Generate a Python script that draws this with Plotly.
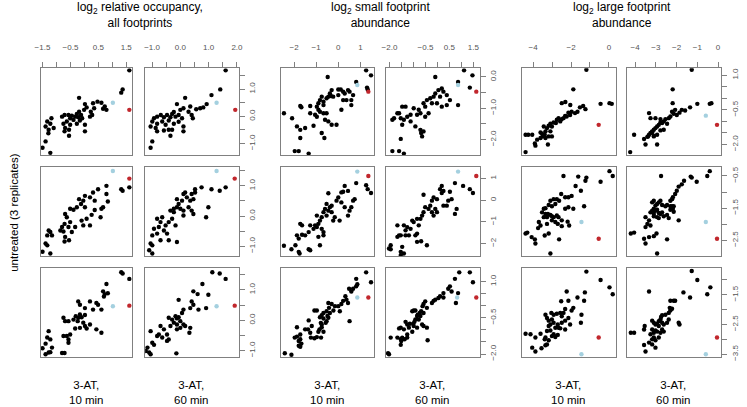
import plotly.graph_objects as go

# ---- x axes (3-AT 10 min / 60 min) for each measure ----
occ_10_range = [-1.571, 1.716]
occ_10_ticks = [-1.5, -1.0, -0.5, 0.0, 0.5, 1.0, 1.5]
occ_10_labels = {-1.5: "−1.5", -0.5: "−0.5", 0.5: "0.5", 1.5: "1.5"}
occ_60_range = [-1.244, 2.066]
occ_60_ticks = [-1.0, -0.5, 0.0, 0.5, 1.0, 1.5, 2.0]
occ_60_labels = {-1.0: "−1.0", 0.0: "0.0", 1.0: "1.0", 2.0: "2.0"}
small_10_range = [-2.58, 1.616]
small_10_ticks = [-2, -1, 0, 1]
small_10_labels = {-2: "−2", -1: "−1", 0: "0", 1: "1"}
small_60_range = [-2.152, 1.757]
small_60_ticks = [-2.0, -1.5, -1.0, -0.5, 0.0, 0.5, 1.0, 1.5]
small_60_labels = {-2.0: "−2.0", -0.5: "−0.5", 0.5: "0.5", 1.5: "1.5"}
large_10_range = [-4.589, 0.359]
large_10_ticks = [-4, -3, -2, -1, 0]
large_10_labels = {-4: "−4", -2: "−2", 0: "0"}
large_60_range = [-4.414, 0.157]
large_60_ticks = [-4, -3, -2, -1, 0]
large_60_labels = {-4: "−4", -3: "−3", -2: "−2", -1: "−1", 0: "0"}

# ---- y axes (untreated replicates) for each measure ----
occ_rep1_range = [-1.436, 1.764]
occ_rep2_range = [-1.338, 1.613]
occ_rep3_range = [-1.225, 1.707]
occ_yticks = [-1.0, -0.5, 0.0, 0.5, 1.0, 1.5]
occ_ylabels = {-1.0: "−1.0", 0.0: "0.0", 1.0: "1.0"}
small_rep1_range = [-2.509, 0.275]
small_rep1_ticks = [-2.0, -1.5, -1.0, -0.5, 0.0]
small_rep1_labels = {-2.0: "−2.0", -1.0: "−1.0", 0.0: "0.0"}
small_rep2_range = [-2.594, 1.516]
small_rep2_ticks = [-2, -1, 0, 1]
small_rep2_labels = {-2: "−2", -1: "−1", 0: "0", 1: "1"}
small_rep3_range = [-2.143, 1.545]
small_rep3_ticks = [-2.0, -1.5, -1.0, -0.5, 0.0, 0.5, 1.0]
small_rep3_labels = {-2.0: "−2.0", -0.5: "−0.5", 1.0: "1.0"}
large_rep1_range = [-2.476, 1.30]
large_rep1_ticks = [-2.0, -1.5, -1.0, -0.5, 0.0, 0.5, 1.0]
large_rep1_labels = {-2.0: "−2.0", -0.5: "−0.5", 1.0: "1.0"}
large_rep2_range = [-3.002, -0.232]
large_rep2_ticks = [-2.5, -2.0, -1.5, -1.0, -0.5]
large_rep2_labels = {-2.5: "−2.5", -1.5: "−1.5", -0.5: "−0.5"}
large_rep3_range = [-3.61, -0.61]
large_rep3_ticks = [-3.5, -3.0, -2.5, -2.0, -1.5, -1.0]
large_rep3_labels = {-3.5: "−3.5", -2.5: "−2.5", -1.5: "−1.5"}

# ---- points (x = 3-AT, y = untreated) ----
occ_10_rep1 = [(1.61, 1.69), (1.37, 0.99), (1.32, 0.87), (-0.19, 0.68), (0.02, 0.45), (0.08, 0.33), (-0.01, 0.24),
               (0.31, 0.48), (0.47, 0.54), (0.61, 0.50), (0.73, 0.36), (0.67, 0.28), (0.79, 0.24), (0.35, 0.30),
               (0.23, 0.17), (0.20, -0.01), (0.28, 0.05), (-0.19, 0.17), (-0.80, -0.01), (-0.71, 0.05), (-0.57, 0.05),
               (-0.51, -0.07), (-0.45, 0.02), (-0.33, -0.01), (-0.27, 0.09), (-0.22, -0.03), (-0.12, 0.05), (-0.08, -0.07),
               (-0.39, -0.13), (-0.63, -0.19), (-0.75, -0.27), (-0.51, -0.31), (-0.27, -0.27), (-0.16, -0.15), (0.02, -0.31),
               (-0.55, -0.49), (-0.69, -0.43), (-1.18, -0.07), (-1.33, -0.19), (-1.39, -0.37), (-1.22, -0.27), (-1.28, -0.49),
               (-1.10, -0.43), (-1.50, -1.15), (-1.39, -0.92), (-1.22, -1.34), (-0.55, -0.71), (-1.29, -0.62), (-0.71, -0.55),
               (0.02, -0.55)]
occ_10_rep1_hl = {"blue": (1.02, 0.50), "red": (1.61, 0.24)}
occ_60_rep1 = [(1.60, 1.69), (1.41, 0.99), (1.10, 0.78), (0.17, 0.68), (-0.12, 0.45), (0.93, 0.45), (0.81, 0.33),
               (0.70, 0.30), (0.56, 0.26), (0.35, 0.36), (0.11, 0.30), (0.29, 0.17), (0.40, 0.05), (0.44, -0.07),
               (0.00, 0.24), (-0.23, 0.16), (-0.93, -0.07), (-0.82, -0.01), (-0.69, 0.05), (-0.58, -0.03), (-0.47, 0.05),
               (-0.35, -0.03), (-0.29, 0.09), (-0.17, -0.01), (-0.06, 0.05), (0.06, -0.07), (-0.41, -0.15), (-0.64, -0.19),
               (-0.82, -0.27), (-0.52, -0.31), (-0.23, -0.27), (-0.06, -0.20), (0.11, -0.37), (-0.41, -0.49), (-0.99, -0.19),
               (-1.05, -0.37), (-0.87, -0.43), (-1.05, -1.15), (-0.99, -0.92), (-0.82, -0.55), (-0.35, -0.71), (-0.58, -0.52),
               (-0.29, -0.49), (0.11, -0.55)]
occ_60_rep1_hl = {"blue": (1.28, 0.50), "red": (1.94, 0.24)}
occ_10_rep2 = [(1.61, 0.95), (1.32, 0.89), (1.37, 0.84), (0.79, 1.00), (0.79, 0.73), (0.49, 0.89), (0.31, 0.78),
               (0.20, 0.62), (0.37, 0.51), (0.84, 0.48), (0.02, 0.67), (-0.04, 0.51), (-0.19, 0.56), (-0.12, 0.40),
               (0.02, 0.29), (-0.27, 0.29), (-0.39, 0.21), (-0.51, 0.24), (0.61, 0.24), (0.67, 0.29), (0.58, -0.04),
               (0.37, 0.20), (0.26, 0.04), (0.08, -0.09), (-0.10, -0.15), (0.20, -0.31), (-0.04, -0.31), (-0.69, 0.07),
               (-0.63, -0.04), (-0.51, -0.20), (-0.71, -0.26), (-0.80, -0.36), (-0.57, -0.36), (-0.33, -0.36), (-0.45, -0.53),
               (-0.75, -0.51), (-0.86, -0.48), (-0.69, -0.69), (-0.71, -0.84), (-0.55, -0.80), (-1.28, -0.48), (-1.22, -0.53),
               (-1.33, -0.64), (-1.16, -0.64), (-1.39, -0.91), (-1.33, -0.97), (-1.50, -1.18), (-1.22, -1.24)]
occ_10_rep2_hl = {"blue": (1.02, 1.49), "red": (1.61, 1.24)}
occ_60_rep2 = [(1.60, 0.95), (1.39, 0.84), (1.10, 0.89), (0.75, 0.95), (0.52, 0.89), (0.40, 0.73), (0.52, 0.78),
               (0.17, 0.78), (0.11, 0.73), (0.23, 0.62), (-0.12, 0.56), (0.06, 0.51), (0.35, 0.51), (0.46, 0.56),
               (0.99, 0.29), (0.91, -0.04), (-0.06, 0.40), (-0.12, 0.29), (0.00, 0.24), (-0.23, 0.24), (-0.35, 0.18),
               (0.11, 0.18), (-0.23, 0.13), (0.11, 0.02), (0.29, 0.29), (0.40, 0.18), (0.46, 0.07), (-0.64, -0.04),
               (-0.82, -0.09), (-0.70, -0.20), (-0.41, -0.20), (-0.52, -0.31), (-0.76, -0.36), (-0.93, -0.42), (-0.58, -0.48),
               (-0.82, -0.58), (-0.99, -0.64), (-0.47, -0.58), (-0.17, -0.31), (-0.12, -0.86), (-0.41, -0.80), (-0.70, -0.80),
               (-1.05, -0.91), (-0.99, -0.97), (-1.10, -1.13), (-0.99, -1.24), (-0.29, -0.09)]
occ_60_rep2_hl = {"blue": (1.28, 1.49), "red": (1.92, 1.24)}
occ_10_rep3 = [(1.32, 1.58), (1.37, 1.54), (1.61, 1.36), (0.79, 1.19), (0.67, 0.95), (0.73, 0.86), (0.84, 0.89),
               (0.70, 0.78), (0.20, 0.62), (0.43, 0.57), (0.49, 0.51), (0.02, 0.40), (0.31, 0.35), (0.61, 0.35),
               (-0.22, 0.62), (-0.16, 0.51), (-0.39, 0.02), (-0.31, 0.13), (-0.22, 0.08), (-0.16, 0.19), (-0.10, 0.10),
               (0.02, 0.17), (-0.24, -0.03), (-0.04, -0.08), (0.02, -0.19), (0.08, -0.27), (-0.33, -0.27), (-0.16, -0.25),
               (0.20, -0.14), (0.43, -0.30), (0.61, -0.41), (-0.75, 0.08), (-0.69, -0.03), (-0.57, -0.03), (-0.75, -0.52),
               (-0.63, -0.52), (-0.51, -0.47), (-0.57, -0.63), (-0.57, -0.74), (-1.28, -0.36), (-1.33, -0.57), (-1.22, -0.63),
               (-1.39, -0.77), (-1.16, -0.90), (-1.50, -0.92), (-1.39, -1.12), (-1.28, -1.06), (-1.22, -1.05), (-0.80, -1.08),
               (-0.71, -1.08)]
occ_10_rep3_hl = {"blue": (1.02, 0.46), "red": (1.61, 0.48)}
occ_60_rep3 = [(1.13, 1.58), (1.39, 1.54), (1.60, 1.36), (0.78, 1.19), (0.46, 0.95), (0.61, 0.86), (0.99, 0.84),
               (0.91, 0.40), (0.40, 0.62), (0.46, 0.51), (0.35, 0.40), (0.64, 0.35), (-0.06, 0.67), (0.11, 0.35),
               (0.06, 0.24), (-0.41, 0.08), (-0.29, 0.02), (-0.17, 0.13), (-0.12, 0.06), (-0.06, 0.10), (0.00, -0.03),
               (-0.23, -0.08), (-0.12, -0.14), (0.11, -0.14), (0.17, -0.19), (-0.35, -0.19), (0.00, -0.25), (-0.12, -0.30),
               (0.35, -0.25), (0.32, -0.41), (-0.70, -0.19), (-0.58, -0.30), (-0.76, -0.47), (-0.47, -0.47), (-0.64, -0.57),
               (-0.41, -0.63), (-0.47, -0.68), (-1.05, -0.36), (-0.82, -0.52), (-0.99, -0.74), (-0.93, -0.81), (-1.16, -0.90),
               (-1.22, -1.01), (-1.10, -1.06), (-1.05, -1.12), (-0.14, -1.09)]
occ_60_rep3_hl = {"blue": (1.28, 0.46), "red": (1.92, 0.48)}

small_10_rep1 = [(1.26, 0.21), (1.48, 0.05), (0.81, -0.16), (1.30, -0.34), (1.33, -0.40), (-0.48, 0.00), (-0.30, -0.42),
                 (-0.38, -0.53), (-0.33, -0.61), (-0.45, -0.63), (-0.53, -0.68), (-0.23, -0.63), (-0.75, -0.63), (-0.83, -0.74),
                 (-0.67, -0.79), (-0.90, -0.84), (-0.67, -0.90), (0.00, -0.40), (0.11, -0.40), (0.22, -0.47), (0.29, -0.53),
                 (0.44, -0.42), (0.51, -0.47), (0.67, -0.58), (0.59, -0.74), (0.37, -0.74), (0.22, -0.74), (0.00, -0.58),
                 (0.59, -0.90), (-1.72, -0.93), (-1.67, -0.97), (-1.27, -0.93), (-0.97, -0.95), (-0.90, -1.05), (-0.83, -1.11),
                 (-0.67, -1.16), (-0.53, -1.16), (-1.05, -1.21), (-1.27, -1.16), (-0.97, -1.27), (-0.60, -1.37), (-0.45, -1.42),
                 (-0.30, -1.53), (-0.08, -1.53), (0.14, -1.05), (-2.46, -1.16), (-2.09, -1.32), (-1.87, -1.58), (-1.72, -1.69),
                 (-1.50, -1.63), (-1.12, -1.56), (-0.75, -1.79), (-0.63, -1.95), (-1.72, -1.95), (-1.97, -2.37), (-1.79, -2.37),
                 (-1.34, -2.45)]
small_10_rep1_hl = {"blue": (0.86, -0.26), "red": (1.36, -0.47)}
small_60_rep1 = [(1.11, 0.21), (1.46, 0.05), (0.86, -0.16), (1.35, -0.34), (-0.09, 0.00), (0.18, -0.37), (0.25, -0.47),
                 (0.04, -0.42), (-0.09, -0.53), (0.39, -0.58), (0.52, -0.74), (0.11, -0.63), (-0.16, -0.63), (-0.30, -0.68),
                 (-0.44, -0.74), (-0.23, -0.84), (-0.02, -0.84), (0.18, -0.95), (0.39, -0.90), (0.86, -0.90), (-0.58, -0.84),
                 (-0.51, -0.95), (-0.78, -1.05), (-0.71, -1.16), (-0.85, -1.21), (-0.51, -1.27), (-0.37, -1.16), (-0.99, -1.00),
                 (-1.12, -1.21), (-1.26, -1.27), (-1.40, -1.37), (-1.47, -1.53), (-1.12, -1.42), (-0.92, -1.58), (-0.71, -1.69),
                 (-0.58, -1.74), (-0.64, -1.90), (-1.88, -1.37), (-1.81, -1.32), (-1.67, -1.16), (-1.60, -1.16), (-1.47, -0.95),
                 (-1.33, -0.95), (-1.53, -1.32), (-1.88, -2.37), (-1.60, -2.37), (-1.40, -2.45), (-1.53, -1.98), (-0.68, -1.79)]
small_60_rep1_hl = {"blue": (0.86, -0.26), "red": (1.62, -0.47)}
small_10_rep2 = [(0.81, 0.79), (1.26, 0.69), (1.33, 0.51), (1.48, 0.33), (0.29, 0.66), (0.44, 0.43), (0.22, 0.39),
                 (0.14, 0.36), (0.00, 0.13), (-0.08, -0.02), (0.67, -0.02), (0.74, 0.05), (0.59, -0.32), (0.44, -0.71),
                 (0.51, -0.48), (0.29, -0.32), (0.14, -0.10), (-0.45, 0.32), (-0.53, -0.17), (-0.38, -0.32), (-0.30, -0.25),
                 (-0.45, -0.48), (-0.60, -0.40), (-0.67, -0.55), (-0.53, -0.71), (-0.30, -0.55), (-0.23, -0.94), (0.06, -0.94),
                 (-0.16, -0.78), (-0.75, -0.78), (-0.83, -0.94), (-0.97, -0.71), (-0.90, -1.09), (-1.05, -1.16), (-0.75, -1.32),
                 (-0.67, -1.47), (-1.12, -1.32), (-0.97, -1.24), (-1.72, -1.09), (-1.64, -1.16), (-1.87, -1.62), (-1.79, -1.77),
                 (-1.64, -1.59), (-1.50, -1.62), (-1.34, -1.47), (-1.27, -1.16), (-0.83, -2.08), (-0.90, -1.69), (-0.67, -1.62),
                 (-1.27, -2.31), (-2.46, -2.10), (-2.12, -2.26), (-1.94, -2.08), (-1.75, -2.46), (-1.79, -2.38), (-1.34, -2.26)]
small_10_rep2_hl = {"blue": (0.86, 1.32), "red": (1.36, 1.12)}
small_60_rep2 = [(0.73, 0.79), (1.07, 0.66), (1.35, 0.51), (1.48, 0.33), (0.18, 0.66), (0.25, 0.43), (0.11, 0.51),
                 (0.18, 0.33), (0.52, 0.39), (0.59, 0.05), (0.45, -0.02), (0.39, -0.25), (0.25, -0.25), (-0.16, 0.13),
                 (-0.02, 0.05), (-0.23, -0.02), (-0.30, -0.25), (-0.37, -0.40), (-0.09, -0.40), (-0.23, -0.55), (-0.16, -0.71),
                 (-0.02, -0.55), (-0.58, 0.25), (-0.51, -0.32), (-0.58, -0.55), (-0.64, -0.71), (-0.71, -0.86), (-0.85, -0.86),
                 (-0.99, -1.01), (-1.05, -0.94), (-0.78, -1.16), (-1.12, -1.32), (-1.26, -1.24), (-1.40, -1.16), (-1.33, -1.39),
                 (-1.53, -1.62), (-1.60, -1.62), (-1.67, -1.69), (-1.33, -1.62), (-0.85, -1.54), (-0.92, -1.62), (-1.67, -1.16),
                 (-1.19, -1.62), (-0.85, -1.92), (-0.68, -1.89), (-0.44, -2.08), (0.80, -0.40), (0.73, -0.63), (-1.95, -2.08),
                 (-2.02, -2.23), (-1.95, -2.26), (-1.47, -2.15), (-1.53, -2.38), (-1.40, -2.46), (-1.53, -2.53)]
small_60_rep2_hl = {"blue": (0.86, 1.32), "red": (1.62, 1.12)}
small_10_rep3 = [(1.26, 1.38), (1.48, 0.97), (0.81, 1.11), (0.86, 0.89), (0.81, 0.80), (0.67, 0.70), (0.49, 0.70),
                 (0.59, 0.59), (0.32, 0.39), (0.37, 0.25), (0.22, 0.20), (0.44, 0.11), (0.14, 0.07), (0.00, -0.02),
                 (-0.15, -0.02), (-0.30, 0.07), (-0.45, 0.11), (-0.22, -0.20), (-0.42, -0.09), (-0.53, -0.23), (-0.38, -0.30),
                 (-0.49, -0.43), (-0.67, -0.30), (-0.75, -0.39), (-0.83, -0.48), (-0.67, -0.53), (-0.45, -0.50), (-0.53, -0.64),
                 (-0.57, -0.71), (-0.79, -0.71), (-0.75, -0.78), (-0.75, -0.89), (-0.85, -0.98), (-0.90, -1.08), (-0.67, -1.08),
                 (-0.78, -1.32), (-0.97, -1.30), (-1.08, -1.35), (-1.34, -0.61), (-1.08, -0.20), (-0.97, -0.20), (-1.20, -0.84),
                 (-1.37, -0.98), (-1.50, -0.98), (-1.87, -0.89), (-1.97, -1.32), (-1.87, -1.28), (-1.72, -1.19), (-1.72, -1.39),
                 (-1.79, -1.46), (-1.67, -1.57), (-1.79, -1.66), (-1.72, -1.70), (-1.24, -1.32), (-1.27, -1.12), (-2.42, -1.97),
                 (-2.12, -2.03), (0.07, -0.23), (0.51, -0.64)]
small_10_rep3_hl = {"blue": (0.86, 0.34), "red": (1.36, 0.34)}
small_60_rep3 = [(0.91, 1.38), (1.35, 1.38), (1.48, 0.97), (0.73, 1.11), (0.52, 0.80), (0.45, 0.70), (0.59, 0.59),
                 (0.25, 0.52), (0.11, 0.39), (0.25, 0.34), (0.04, 0.32), (-0.09, 0.25), (-0.16, 0.20), (-0.23, 0.11),
                 (-0.51, 0.18), (-0.58, 0.07), (-0.62, -0.02), (-0.44, -0.09), (-0.68, -0.23), (-0.74, -0.30), (-0.58, -0.30),
                 (-0.82, -0.37), (-0.92, -0.20), (-0.99, -0.20), (-1.05, -0.23), (-0.85, -0.43), (-0.71, -0.43), (-0.92, -0.57),
                 (-0.78, -0.57), (-0.96, -0.67), (-1.01, -0.75), (-1.15, -0.75), (-1.26, -0.78), (-1.33, -0.67), (-1.19, -0.91),
                 (-0.99, -0.84), (-0.85, -0.91), (-0.64, -0.78), (-0.58, -0.84), (-0.44, -0.91), (-0.41, -1.43), (-1.05, -1.08),
                 (-1.26, -1.19), (-1.40, -0.98), (-1.53, -0.91), (-1.60, -0.94), (-1.47, -1.32), (-1.53, -1.39), (-1.51, -1.46),
                 (-1.53, -1.62), (-1.67, -1.32), (-1.95, -1.32), (-1.37, -1.39), (-1.26, -1.32), (-2.06, -1.97), (-2.02, -2.01),
                 (0.77, 0.11), (0.86, 0.52)]
small_60_rep3_hl = {"blue": (0.82, 0.34), "red": (1.62, 0.34)}

large_10_rep1 = [(-1.19, 1.24), (-1.88, 0.39), (-2.49, -0.21), (-0.44, -0.24), (0.03, -0.21), (0.15, -0.24), (-1.53, -0.39),
                 (-1.24, -0.47), (-1.66, -0.58), (-1.79, -0.64), (-1.97, -0.58), (-2.05, -0.72), (-2.14, -0.62), (-2.23, -0.79),
                 (-2.31, -0.76), (-2.40, -0.86), (-2.49, -0.90), (-2.66, -0.86), (-2.57, -1.00), (-2.75, -0.93), (-2.80, -1.07),
                 (-2.92, -1.05), (-3.09, -1.10), (-3.01, -1.22), (-3.18, -1.19), (-3.27, -1.29), (-3.35, -1.43), (-3.44, -1.22),
                 (-3.09, -1.43), (-3.39, -1.58), (-3.49, -1.65), (-3.61, -1.72), (-3.79, -1.79), (-4.05, -1.58), (-4.26, -1.58),
                 (-3.35, -1.72), (-4.40, -1.58), (-3.91, -1.96), (-3.88, -2.05), (-3.61, -1.48), (-3.22, -2.00), (-3.53, -1.53),
                 (-3.18, -1.65), (-3.01, -1.65), (-4.40, -2.33), (-2.30, -0.16), (-2.04, -0.29), (-1.36, -0.33)]
large_10_rep1_hl = {"red": (-0.54, -1.15)}
large_60_rep1 = [(-1.27, 1.24), (-2.19, 0.39), (-2.19, -0.21), (-0.40, -0.24), (-0.32, -0.21), (-1.00, -0.24), (-1.35, -0.39),
                 (-1.59, -0.53), (-1.75, -0.50), (-1.86, -0.62), (-1.99, -0.72), (-2.14, -0.67), (-2.30, -0.79), (-2.38, -0.86),
                 (-2.54, -0.90), (-2.62, -1.00), (-2.70, -1.07), (-2.78, -1.05), (-2.86, -1.15), (-2.94, -1.22), (-3.02, -1.29),
                 (-3.10, -1.36), (-3.18, -1.43), (-3.26, -1.50), (-3.10, -1.65), (-2.94, -1.58), (-2.78, -1.39), (-2.46, -1.10),
                 (-2.62, -1.36), (-3.33, -0.64), (-3.26, -0.86), (-3.02, -0.86), (-3.38, -1.65), (-2.22, -0.58), (-2.07, -0.50),
                 (-4.05, -1.58), (-3.57, -1.76), (-3.50, -2.00), (-3.41, -1.67), (-3.33, -1.58), (-3.18, -1.47), (-3.10, -1.62),
                 (-2.94, -2.00), (-4.24, -2.33), (-2.78, -0.90)]
large_60_rep1_hl = {"blue": (-0.59, -0.75), "red": (-0.05, -1.15)}
large_10_rep2 = [(0.03, -0.35), (0.20, -0.50), (-0.44, -0.68), (-1.19, -0.55), (-1.24, -0.65), (-1.62, -0.52), (-2.40, -0.50),
                 (-1.48, -0.96), (-1.76, -0.81), (-1.97, -1.12), (-2.14, -1.16), (-2.31, -1.16), (-2.52, -1.06), (-2.75, -1.22),
                 (-2.63, -1.27), (-2.92, -1.22), (-3.09, -1.27), (-2.83, -1.37), (-3.01, -1.44), (-3.18, -1.40), (-3.35, -1.50),
                 (-3.44, -1.52), (-3.53, -1.63), (-3.35, -1.68), (-3.22, -1.68), (-3.09, -1.71), (-3.01, -1.75), (-3.27, -1.78),
                 (-2.92, -1.78), (-2.75, -1.73), (-2.66, -1.78), (-3.44, -1.78), (-3.01, -1.88), (-2.83, -1.93), (-2.70, -1.99),
                 (-2.49, -1.88), (-2.31, -1.52), (-2.14, -1.47), (-1.88, -1.52), (-2.49, -2.06), (-2.18, -1.92), (-2.10, -2.04),
                 (-3.70, -1.93), (-3.61, -2.04), (-3.74, -2.12), (-3.27, -1.99), (-4.40, -2.29), (-4.31, -2.26), (-4.08, -2.40),
                 (-3.91, -2.47), (-3.88, -2.60), (-3.39, -2.35), (-3.18, -2.29), (-2.63, -2.47), (-3.09, -2.91), (-1.31, -1.44)]
large_10_rep2_hl = {"blue": (-1.45, -1.93), "red": (-0.54, -2.45)}
large_60_rep2 = [(-0.40, -0.35), (-0.52, -0.50), (-1.32, -0.52), (-1.27, -0.55), (-1.03, -0.68), (-1.64, -0.65), (-1.75, -0.76),
                 (-1.90, -0.83), (-1.99, -0.96), (-2.07, -1.06), (-2.18, -1.16), (-2.22, -1.22), (-2.30, -1.27), (-2.30, -1.44),
                 (-2.22, -1.44), (-2.14, -1.44), (-2.18, -1.52), (-2.14, -1.61), (-2.30, -1.55), (-2.46, -1.40), (-2.54, -1.44),
                 (-2.70, -1.40), (-2.75, -0.50), (-2.78, -1.27), (-2.86, -1.32), (-2.94, -1.37), (-3.02, -1.42), (-3.10, -1.27),
                 (-3.18, -1.32), (-3.10, -1.52), (-3.18, -1.58), (-3.02, -1.58), (-2.94, -1.55), (-2.86, -1.65), (-2.78, -1.68),
                 (-2.70, -1.63), (-2.62, -1.75), (-2.46, -1.71), (-2.38, -1.81), (-3.10, -1.68), (-3.26, -1.63), (-3.10, -1.75),
                 (-3.50, -1.78), (-3.33, -1.88), (-3.41, -1.99), (-3.26, -2.04), (-3.50, -2.09), (-2.94, -1.78), (-2.86, -1.81),
                 (-1.90, -1.88), (-4.21, -2.29), (-4.05, -2.26), (-3.57, -2.45), (-3.50, -2.60), (-3.33, -2.40), (-3.10, -2.37),
                 (-2.97, -2.29), (-2.46, -2.47), (-2.94, -2.91)]
large_60_rep2_hl = {"blue": (-0.59, -1.93), "red": (-0.05, -2.45)}
large_10_rep3 = [(-1.19, -0.72), (-0.44, -1.00), (0.03, -1.25), (0.20, -1.48), (-2.23, -1.39), (-1.66, -1.59), (-1.27, -1.42),
                 (-1.31, -1.70), (-2.14, -1.70), (-2.52, -1.72), (-1.88, -1.94), (-1.97, -2.03), (-2.31, -1.98), (-2.40, -2.11),
                 (-2.49, -2.22), (-2.57, -2.11), (-2.75, -2.14), (-2.92, -2.17), (-3.04, -2.11), (-3.35, -2.17), (-3.27, -2.28),
                 (-3.18, -2.37), (-3.01, -2.33), (-2.92, -2.44), (-3.09, -2.50), (-3.18, -2.55), (-2.83, -2.61), (-2.66, -2.61),
                 (-2.57, -2.63), (-2.70, -2.50), (-2.49, -2.44), (-2.31, -2.37), (-2.14, -2.28), (-2.05, -2.50), (-2.31, -2.67),
                 (-3.27, -2.72), (-3.09, -2.70), (-2.92, -2.83), (-3.01, -2.89), (-3.35, -2.94), (-3.39, -3.00), (-3.18, -3.03),
                 (-3.27, -3.17), (-2.83, -2.92), (-2.70, -2.85), (-3.61, -2.81), (-3.88, -2.94), (-4.14, -2.83), (-4.40, -2.81),
                 (-4.05, -3.28), (-3.88, -3.41), (-3.56, -3.30), (-3.35, -3.20), (-1.45, -2.17), (-1.48, -2.44)]
large_10_rep3_hl = {"blue": (-1.45, -3.50), "red": (-0.54, -2.94)}
large_60_rep3 = [(-1.27, -0.70), (-1.00, -1.00), (-3.33, -1.39), (-1.67, -1.42), (-1.35, -1.59), (-0.52, -1.48), (-0.37, -1.25),
                 (-2.14, -1.70), (-2.30, -1.70), (-2.07, -1.70), (-2.33, -1.94), (-2.22, -1.97), (-2.30, -2.03), (-2.38, -2.11),
                 (-2.54, -2.17), (-2.70, -2.19), (-2.75, -2.25), (-2.78, -2.33), (-2.86, -2.39), (-2.70, -2.44), (-2.94, -2.48),
                 (-3.02, -2.50), (-3.10, -2.44), (-3.18, -2.37), (-2.86, -2.55), (-2.62, -2.50), (-2.46, -2.44), (-2.38, -2.33),
                 (-1.90, -2.44), (-1.86, -2.50), (-3.18, -2.67), (-3.02, -2.70), (-2.94, -2.74), (-3.10, -2.78), (-3.26, -2.83),
                 (-2.78, -2.78), (-2.62, -2.74), (-2.70, -2.67), (-3.10, -2.94), (-3.18, -3.00), (-3.02, -3.03), (-3.33, -3.11),
                 (-3.18, -3.17), (-3.02, -3.28), (-3.54, -2.55), (-3.57, -2.67), (-3.50, -3.41), (-4.21, -2.78), (-4.05, -2.78),
                 (-3.57, -3.19), (-2.86, -2.94)]
large_60_rep3_hl = {"blue": (-0.59, -3.50), "red": (-0.05, -2.94)}

titles = ["log<sub>2</sub> relative occupancy,<br>all footprints",
          "log<sub>2</sub> small footprint<br>abundance",
          "log<sub>2</sub> large footprint<br>abundance"]
col_labels = ["3-AT,<br>10 min", "3-AT,<br>60 min"]
y_title = "untreated (3 replicates)"

# group -> columns (x axis info) and rows (y axis info)
x_axes = [
    [(occ_10_range, occ_10_ticks, occ_10_labels), (occ_60_range, occ_60_ticks, occ_60_labels)],
    [(small_10_range, small_10_ticks, small_10_labels), (small_60_range, small_60_ticks, small_60_labels)],
    [(large_10_range, large_10_ticks, large_10_labels), (large_60_range, large_60_ticks, large_60_labels)],
]
y_axes = [
    [(occ_rep1_range, occ_yticks, occ_ylabels), (occ_rep2_range, occ_yticks, occ_ylabels),
     (occ_rep3_range, occ_yticks, occ_ylabels)],
    [(small_rep1_range, small_rep1_ticks, small_rep1_labels), (small_rep2_range, small_rep2_ticks, small_rep2_labels),
     (small_rep3_range, small_rep3_ticks, small_rep3_labels)],
    [(large_rep1_range, large_rep1_ticks, large_rep1_labels), (large_rep2_range, large_rep2_ticks, large_rep2_labels),
     (large_rep3_range, large_rep3_ticks, large_rep3_labels)],
]
panels = [
    [[(occ_10_rep1, occ_10_rep1_hl), (occ_60_rep1, occ_60_rep1_hl)],
     [(occ_10_rep2, occ_10_rep2_hl), (occ_60_rep2, occ_60_rep2_hl)],
     [(occ_10_rep3, occ_10_rep3_hl), (occ_60_rep3, occ_60_rep3_hl)]],
    [[(small_10_rep1, small_10_rep1_hl), (small_60_rep1, small_60_rep1_hl)],
     [(small_10_rep2, small_10_rep2_hl), (small_60_rep2, small_60_rep2_hl)],
     [(small_10_rep3, small_10_rep3_hl), (small_60_rep3, small_60_rep3_hl)]],
    [[(large_10_rep1, large_10_rep1_hl), (large_60_rep1, large_60_rep1_hl)],
     [(large_10_rep2, large_10_rep2_hl), (large_60_rep2, large_60_rep2_hl)],
     [(large_10_rep3, large_10_rep3_hl), (large_60_rep3, large_60_rep3_hl)]],
]

# layout geometry (pixels)
W, H = 747, 407
col_px = [[(35, 128), (141, 236)], [(279, 373), (385, 480)], [(523, 618), (629, 725)]]
row_px = [(68, 156), (168, 258), (270, 360)]

FONT = "Liberation Sans, Arial, Helvetica, sans-serif"
FRAME = "#808080"
TICKFONT = dict(family=FONT, size=8, color="#555555")
HL_COLORS = {"blue": "#a4d0df", "red": "#c1272d"}
DOT = 4.4

fig = go.Figure()
layout = {}


def tick_setup(all_ticks, labels):
    # labelled ticks are major ticks; R's skipped labels become bare (minor) ticks
    major = [t for t in all_ticks if t in labels]
    return dict(ticks="outside", ticklen=5, tickcolor=FRAME, tickwidth=1,
                tickvals=major, ticktext=[labels[t] for t in major], tickfont=TICKFONT,
                minor=dict(tickvals=all_ticks, ticks="outside", ticklen=5,
                           tickcolor=FRAME, tickwidth=1, showgrid=False))


for g in range(3):
    for r in range(3):
        for c in range(2):
            k = g * 6 + r * 2 + c + 1
            sfx = "" if k == 1 else str(k)
            pts, hl = panels[g][r][c]
            fig.add_trace(go.Scatter(
                x=[p[0] for p in pts], y=[p[1] for p in pts],
                mode="markers", marker=dict(color="black", size=DOT, line=dict(width=0)),
                xaxis="x" + sfx, yaxis="y" + sfx, showlegend=False, hoverinfo="skip"))
            for key, (hx, hy) in hl.items():
                fig.add_trace(go.Scatter(
                    x=[hx], y=[hy], mode="markers",
                    marker=dict(color=HL_COLORS[key], size=DOT, line=dict(width=0)),
                    xaxis="x" + sfx, yaxis="y" + sfx, showlegend=False, hoverinfo="skip"))

            x0, x1 = col_px[g][c]
            y0, y1 = row_px[r]
            xr, xt, xl = x_axes[g][c]
            yr, yt, yl = y_axes[g][r]
            xa = dict(domain=[x0 / W, x1 / W], range=xr, anchor="y" + sfx,
                      showgrid=False, zeroline=False, showline=True, mirror=True,
                      linecolor=FRAME, linewidth=1)
            if r == 0:
                xa.update(side="top", ticklabelstandoff=9, **tick_setup(xt, xl))
            else:
                xa.update(showticklabels=False, ticks="")
            ya = dict(domain=[1 - y1 / H, 1 - y0 / H], range=yr, anchor="x" + sfx,
                      showgrid=False, zeroline=False, showline=True, mirror=True,
                      linecolor=FRAME, linewidth=1)
            if c == 1:
                ya.update(side="right", tickangle=-90, ticklabelstandoff=1, **tick_setup(yt, yl))
            else:
                ya.update(showticklabels=False, ticks="")
            layout["xaxis" + sfx] = xa
            layout["yaxis" + sfx] = ya

annotations = []
for g in range(3):
    cx = (col_px[g][0][0] + col_px[g][1][1]) / 2 / W
    annotations.append(dict(text=titles[g], x=cx, y=1 - 14 / H, xref="paper", yref="paper",
                            showarrow=False, xanchor="center", yanchor="middle",
                            font=dict(family=FONT, size=12, color="black")))
    for c in range(2):
        cx = (col_px[g][c][0] + col_px[g][c][1]) / 2 / W
        annotations.append(dict(text=col_labels[c], x=cx, y=1 - 395 / H, xref="paper", yref="paper",
                                showarrow=False, xanchor="center", yanchor="middle",
                                font=dict(family=FONT, size=11.5, color="black")))
annotations.append(dict(text=y_title, x=8 / W, y=1 - 214 / H, xref="paper", yref="paper",
                        showarrow=False, textangle=-90, xanchor="center", yanchor="middle",
                        font=dict(family=FONT, size=11.5, color="black")))

fig.update_layout(
    width=W, height=H,
    margin=dict(l=0, r=0, t=0, b=0),
    paper_bgcolor="white", plot_bgcolor="white",
    annotations=annotations,
    **layout,
)

# the page body has a default 8px margin; drop it so the figure sits at the window origin
fig.write_html("out.html", config={"displayModeBar": False},
               post_script="document.body.style.margin='0';document.body.style.overflow='hidden';")
